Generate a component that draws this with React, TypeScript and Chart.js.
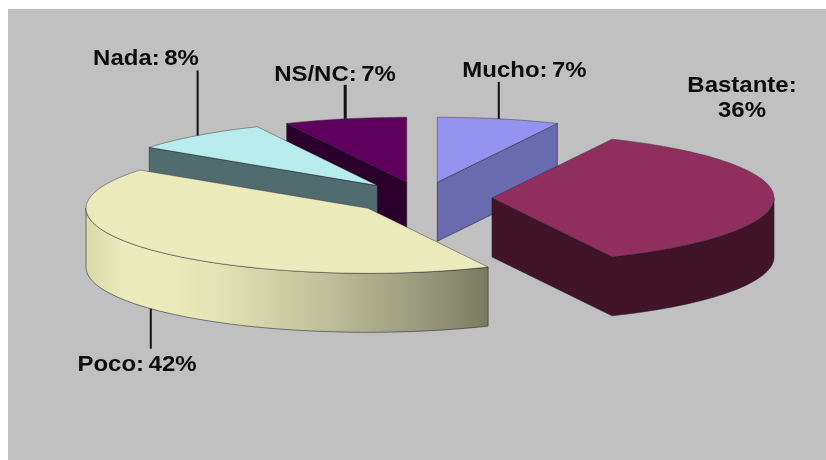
import React, { useEffect, useRef } from "react";
import { Chart, registerables } from "chart.js";

Chart.register(...registerables);

const categories = ["Mucho", "Bastante", "Poco", "Nada", "NS/NC"];
const percentages = [7, 36, 42, 8, 7];
const topColors = ["#9494f0", "#902f5d", "#ebeaba", "#b8ecec", "#5f005f"];
const wallColors = ["#6a6aae", "#421428", "", "#506c6e", "#2c002c"];
const paintOrder = [4, 0, 3, 1, 2];
const leaderLengths = [37, 0, 40, 65, 34];
const labelLines = [["Mucho: 7%"], ["Bastante:", "36%"], ["Poco: 42%"], ["Nada: 8%"], ["NS/NC: 7%"]];
const labelCentersX = [524.5, 742, 137, 146, 335];
const labelBaselinesY = [77, 92, 371, 65, 81];

const RADIUS = 282;
const SQUASH = 0.2305;
const EXPLODE = 70;
const DEPTH = 59;
const LABEL_LEADING = 25;
const TEXT_STRETCH = 1.09;

const pie3d = {
  id: "pie3d",
  beforeDatasetsDraw(chart: any) {
    const ctx: CanvasRenderingContext2D = chart.ctx;
    ctx.save();
    ctx.fillStyle = "#c0c0c0";
    ctx.fillRect(8, 9, chart.width - 8, chart.height - 9);

    const arcs = chart.getDatasetMeta(0).data;
    const tips: { x: number; y: number }[] = [];

    paintOrder.forEach((i) => {
      const arc = arcs[i];
      const mid = (arc.startAngle + arc.endAngle) / 2;
      const ox = Math.cos(mid) * EXPLODE;
      const oy = Math.sin(mid) * EXPLODE * SQUASH;
      const tx = arc.x + ox;
      const ty = arc.y + oy;
      tips[i] = { x: tx, y: ty };

      // outline of the top face
      const pts: { x: number; y: number }[] = [{ x: tx, y: ty }];
      const steps = Math.ceil(((arc.endAngle - arc.startAngle) * 180) / Math.PI);
      for (let s = 0; s <= steps; s++) {
        const a = arc.startAngle + ((arc.endAngle - arc.startAngle) * s) / steps;
        pts.push({
          x: tx + arc.outerRadius * Math.cos(a),
          y: ty + arc.outerRadius * Math.sin(a) * SQUASH,
        });
      }

      // walls facing the viewer
      let wallFill: any = wallColors[i];
      if (!wallFill) {
        const g = ctx.createLinearGradient(85, 0, 488, 0);
        g.addColorStop(0, "#d8d8a8");
        g.addColorStop(0.1, "#ebeaba");
        g.addColorStop(0.22, "#ebeaba");
        g.addColorStop(0.37, "#dfdeb1");
        g.addColorStop(0.62, "#bcbc98");
        g.addColorStop(0.85, "#96967a");
        g.addColorStop(1, "#7a7a5e");
        wallFill = g;
      }
      const n = pts.length;
      const runs: { x: number; y: number }[][] = [];
      let run: { x: number; y: number }[] | null = null;
      for (let k = 0; k < n; k++) {
        const a = pts[k];
        const b = pts[(k + 1) % n];
        if (b.x < a.x - 1e-6) {
          if (!run) run = [a];
          run.push(b);
        } else if (run) {
          runs.push(run);
          run = null;
        }
      }
      if (run) runs.push(run);
      runs.forEach((r) => {
        ctx.beginPath();
        r.forEach((p, idx) => (idx ? ctx.lineTo(p.x, p.y) : ctx.moveTo(p.x, p.y)));
        for (let idx = r.length - 1; idx >= 0; idx--) ctx.lineTo(r[idx].x, r[idx].y + DEPTH);
        ctx.closePath();
        ctx.fillStyle = wallFill;
        ctx.fill();
        ctx.lineWidth = 1;
        ctx.strokeStyle = "rgba(30,30,45,0.55)";
        ctx.stroke();
      });

      // top face, drawn by the library's own arc element
      ctx.save();
      ctx.translate(arc.x, arc.y);
      ctx.scale(1, SQUASH);
      ctx.translate(-arc.x, -arc.y);
      ctx.translate(ox, oy / SQUASH);
      arc.draw(ctx);
      ctx.restore();

      ctx.beginPath();
      pts.forEach((p, idx) => (idx ? ctx.lineTo(p.x, p.y) : ctx.moveTo(p.x, p.y)));
      ctx.closePath();
      ctx.lineWidth = 1;
      ctx.strokeStyle = "rgba(30,30,45,0.4)";
      ctx.stroke();
    });

    // leaders and labels
    ctx.strokeStyle = "#111";
    ctx.fillStyle = "#0c0c0c";
    ctx.font = 'bold 22px "Liberation Sans", Arial, sans-serif';
    (ctx as any).wordSpacing = "-2px";
    ctx.textAlign = "center";
    ctx.textBaseline = "alphabetic";
    categories.forEach((_, i) => {
      const arc = arcs[i];
      const mid = (arc.startAngle + arc.endAngle) / 2;
      const px = tips[i].x + arc.outerRadius * Math.cos(mid);
      const sy = Math.sin(mid);
      const py = tips[i].y + arc.outerRadius * sy * SQUASH + (sy > 0 ? DEPTH : 0);
      if (leaderLengths[i] > 0) {
        ctx.beginPath();
        ctx.lineWidth = i === 4 ? 3 : 2;
        ctx.moveTo(px, py);
        ctx.lineTo(px, py + (sy > 0 ? 1 : -1) * leaderLengths[i]);
        ctx.stroke();
      }
      labelLines[i].forEach((line, l) => {
        ctx.save();
        ctx.translate(labelCentersX[i], labelBaselinesY[i] + l * LABEL_LEADING);
        ctx.scale(TEXT_STRETCH, 1);
        ctx.fillText(line, 0, 0);
        ctx.restore();
      });
    });
    ctx.restore();
    return false;
  },
};

export default function App() {
  const ref = useRef<HTMLCanvasElement | null>(null);
  useEffect(() => {
    const chart = new Chart(ref.current as HTMLCanvasElement, {
      type: "pie",
      data: {
        labels: categories,
        datasets: [
          {
            data: percentages,
            backgroundColor: topColors,
            borderWidth: 0,
            radius: RADIUS,
          } as any,
        ],
      },
      options: {
        animation: false,
        responsive: false,
        layout: { padding: { left: 18, bottom: 64 } },
        plugins: { legend: { display: false }, tooltip: { enabled: false } },
      },
      plugins: [pie3d],
    });
    return () => chart.destroy();
  }, []);
  return (
    <canvas
      ref={ref}
      width={826}
      height={460}
      style={{ position: "fixed", left: 0, top: 0, display: "block" }}
    />
  );
}
